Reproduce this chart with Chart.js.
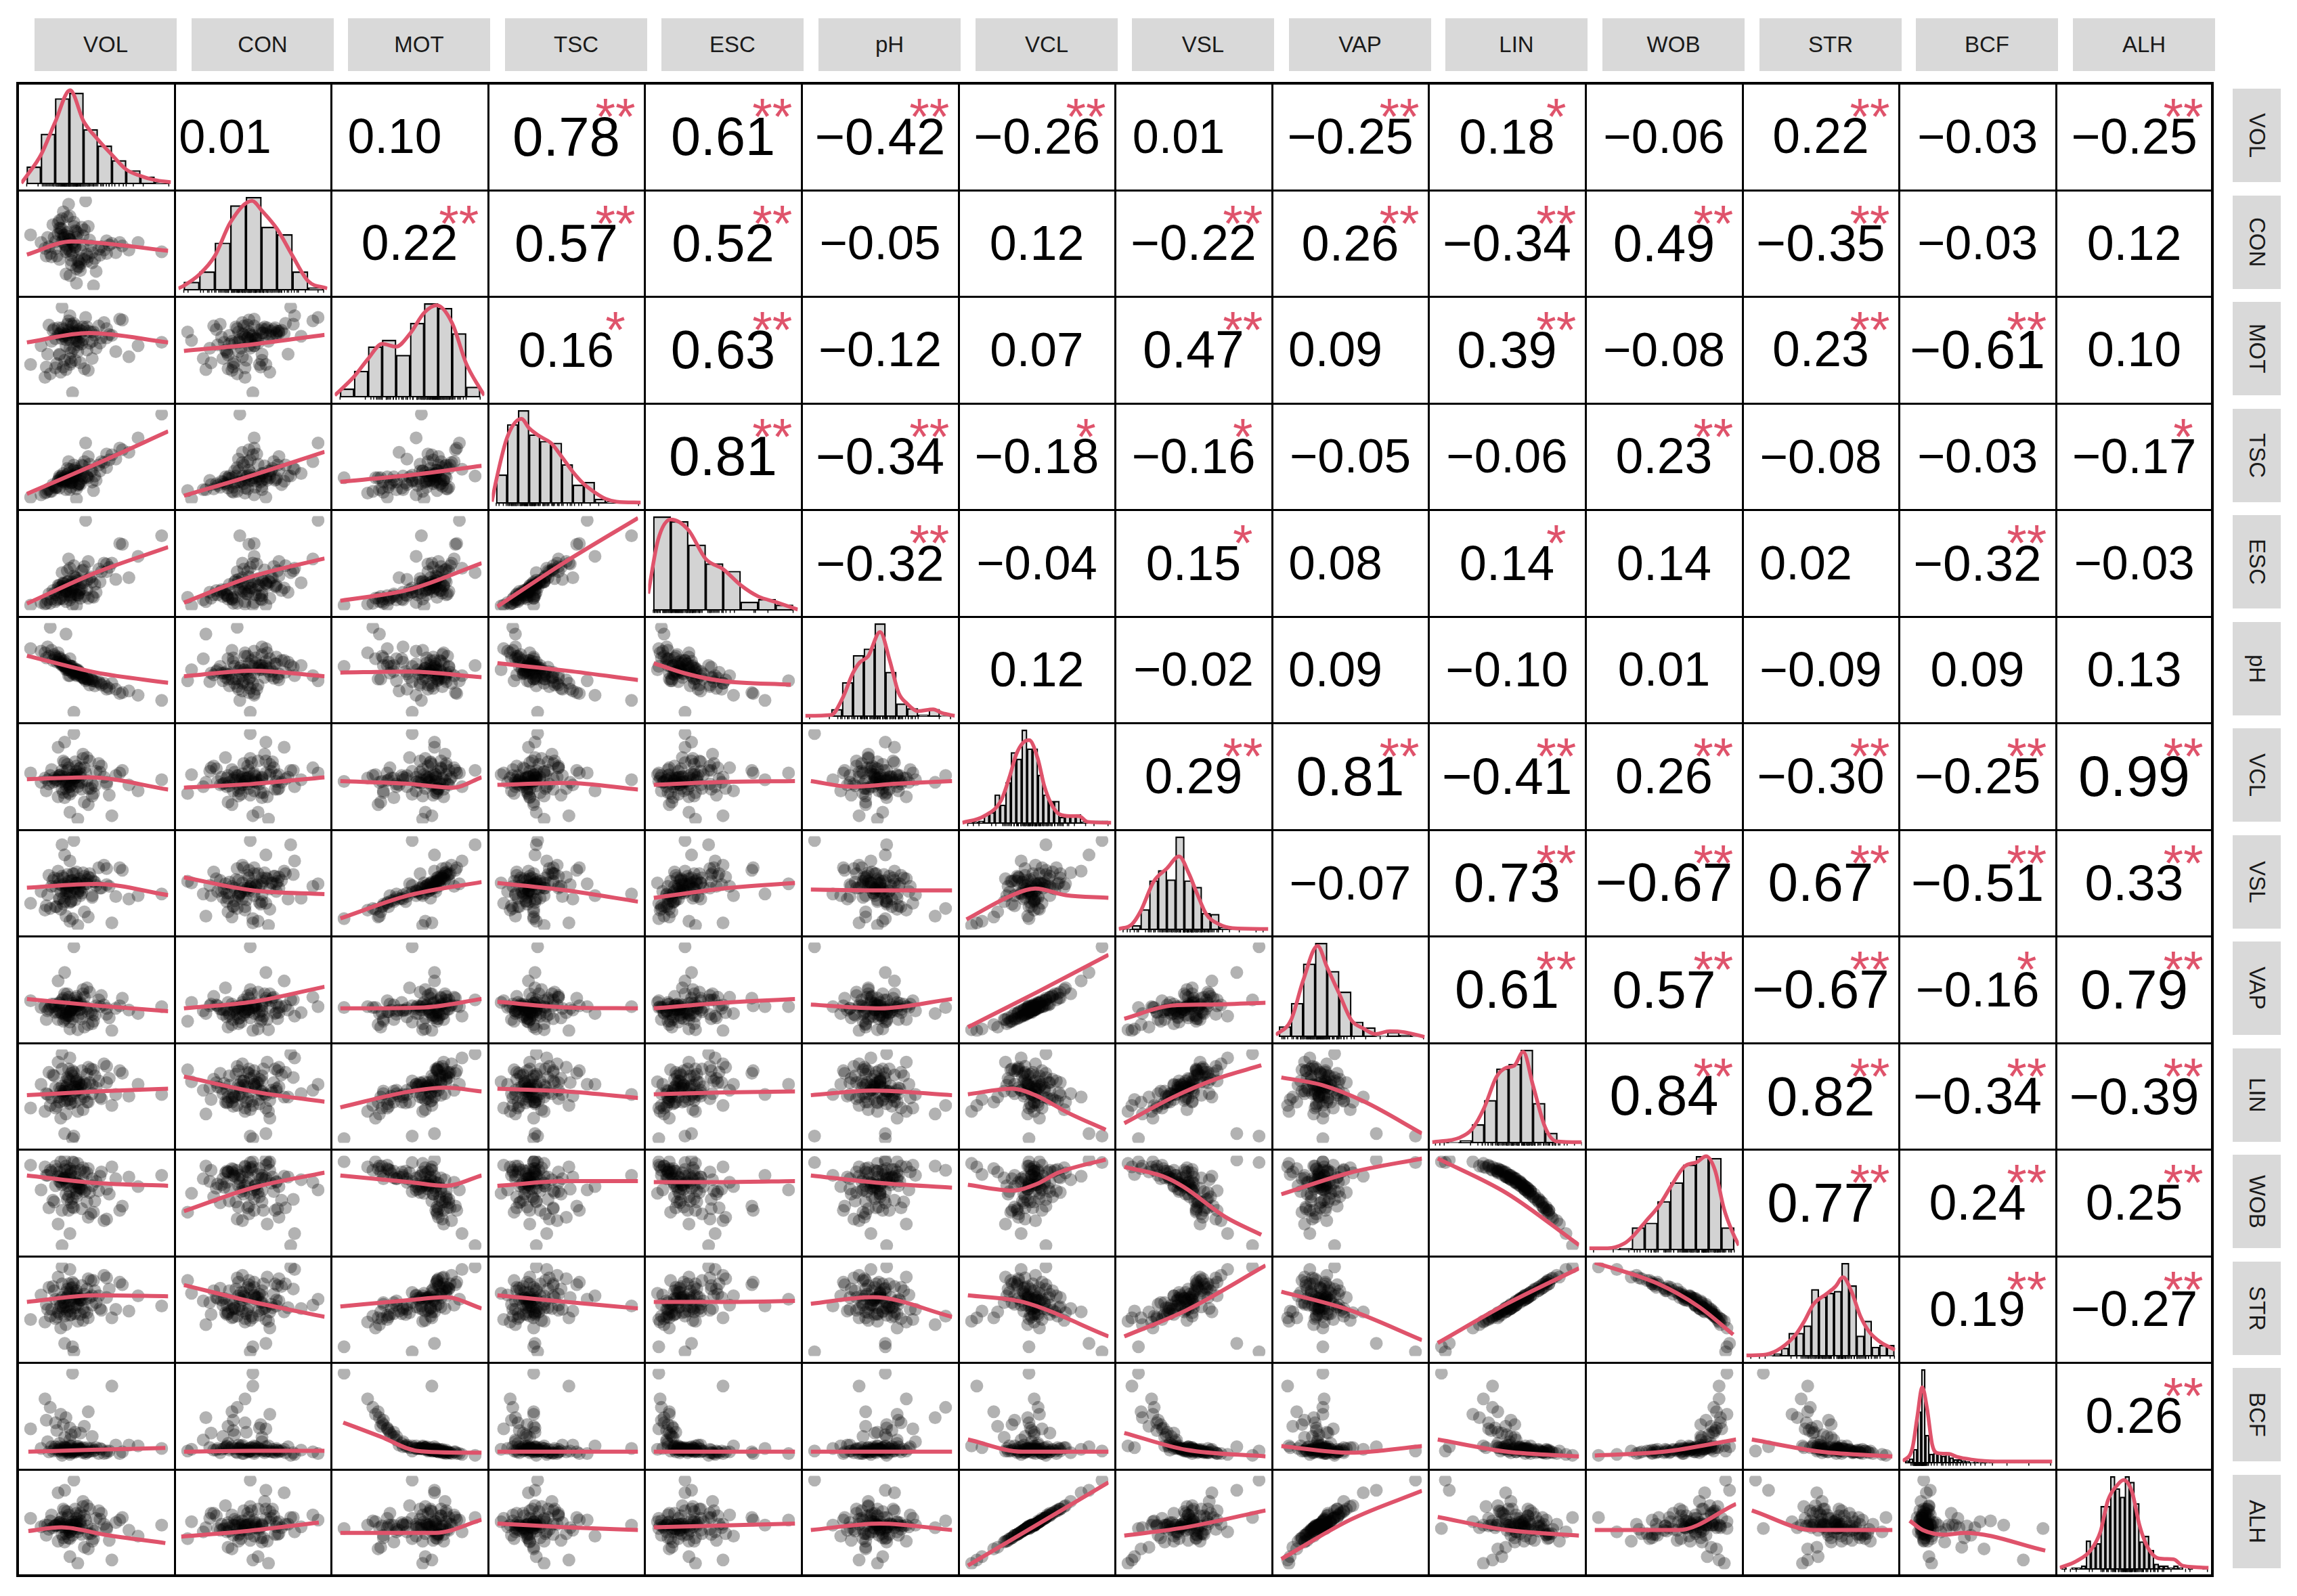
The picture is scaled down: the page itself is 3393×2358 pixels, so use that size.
<!DOCTYPE html>
<html>
<head>
<meta charset="utf-8">
<script src="https://cdn.jsdelivr.net/npm/chart.js@4.4.1/dist/chart.umd.min.js"></script>
<style>
html, body { margin: 0; padding: 0; background: #fff; }
#wrap { position: relative; width: 3393px; height: 2358px; overflow: hidden; font-family: "Liberation Sans", Arial, sans-serif; }
.strip { position: absolute; background: #d9d9d9; color: #1a1a1a; font-size: 33px; display: flex; align-items: center; justify-content: center; }
.strip.v { writing-mode: vertical-rl; }
.cell { position: absolute; overflow: hidden; background: #fff; }
.cell canvas { position: absolute; left: 0; top: 0; }
.num { position: absolute; left: 0; top: 0; width: 100%; height: 100%; display: flex; align-items: center; justify-content: center; line-height: 1; color: #000; white-space: nowrap; }
.star { position: absolute; color: #df536b; line-height: 1; font-size: 76px; white-space: nowrap; transform: translateX(-50%); }
.gl { position: absolute; background: #000; }
</style>
</head>
<body>
<div id="wrap"></div>
<script>
// variables, in panel order
const names = ['VOL', 'CON', 'MOT', 'TSC', 'ESC', 'pH', 'VCL', 'VSL', 'VAP', 'LIN', 'WOB', 'STR', 'BCF', 'ALH'];

// observations (0 = smallest value of the variable, 100 = largest)
const VOL = [28,35,12,45,31,22,60,38,18,27, 33,41,8,52,25,30,70,36,15,29, 43,24,34,0,48,32,21,39,56,26, 37,19,30,65,28,44,14,35,23,82, 31,40,27,50,17,33,38,25,100,29, 46,22,34,58,30,11,42,36,26,75, 32,20,39,54,27,35,47,24,31,62, 24,36,41,19,29,53,33,26,47,21, 38,30,16,44,27,35,58,23,32,40, 13,28,49,34,25,37,68,30,22,43];
const CON = [44,64,35,54,25,77,48,18,57,40, 70,31,51,43,87,12,47,62,38,55, 29,67,46,60,0,50,74,32,42,57, 22,52,82,39,63,34,46,3,68,51, 36,59,43,17,72,48,26,56,40,96, 47,31,65,38,54,44,100,23,60,42, 51,35,69,46,14,57,39,79,30,50, 52,30,66,44,58,36,75,49,27,61, 42,55,34,70,47,20,53,63,39,48, 57,81,32,45,60,28,51,41,68,37];
const MOT = [65,72,30,58,80,45,68,35,75,62, 70,28,55,78,66,40,85,60,22,73, 50,76,64,33,71,0,69,57,82,38, 74,63,90,48,67,26,79,61,70,55, 36,77,68,52,73,52,65,30,59,84, 71,44,66,75,62,18,88,56,69,42, 78,34,72,64,27,70,60,100,47,67, 63,48,74,29,70,58,81,66,40,76, 69,33,60,72,55,78,64,24,71,62, 45,80,67,38,74,59,86,52,68,77];
const TSC = [22,33,8,41,14,27,46,17,15,20, 34,25,5,40,30,11,58,33,9,24, 26,22,27,2,10,25,21,24,43,22, 18,14,35,47,29,25,12,0,23,72, 19,39,18,22,17,28,21,20,100,44, 34,13,36,37,27,7,66,16,26,55, 25,14,40,44,11,30,33,27,19,52, 21,17,44,13,30,33,40,22,20,22, 27,26,9,50,21,12,53,25,20,31, 11,36,27,26,24,18,60,21,25,27];
const ESC = [20,33,3,32,17,16,45,9,15,18, 35,11,4,43,27,7,72,29,3,24, 19,23,25,1,10,1,21,20,50,12, 18,13,44,31,28,9,14,0,22,58, 10,42,17,16,18,21,19,8,82,55, 34,8,33,40,24,2,100,13,26,33, 28,7,41,40,5,30,28,39,13,50, 19,12,46,5,29,28,47,21,11,24, 26,12,8,52,17,13,49,9,20,27, 7,41,25,14,26,15,73,16,24,30];
const PH  = [50,43,64,32,54,59,28,46,68,52, 45,39,72,36,55,63,23,48,100,50, 41,57,46,75,37,54,61,45,34,55, 48,64,43,27,52,39,66,50,57,20, 54,41,50,36,61,0,46,55,14,43, 39,63,48,30,52,70,37,50,54,25, 46,59,41,32,92,50,39,55,48,34, 58,45,40,66,52,34,47,61,37,70, 43,55,73,38,57,44,27,63,49,41, 77,53,31,48,60,46,22,54,65,39];
const VCL = [44,56,33,68,40,49,28,60,48,36, 52,20,43,65,46,38,57,0,51,41, 72,35,48,54,30,44,84,43,49,25, 59,46,38,51,64,17,41,52,44,33, 48,76,40,56,43,100,49,31,46,60, 36,51,67,41,8,48,54,44,90,40, 52,46,35,62,43,49,27,57,48,4, 50,38,60,44,31,55,47,66,41,26, 53,45,58,36,49,62,43,52,33,71, 46,57,39,48,68,42,54,29,51,45];
const VSL = [41,50,23,61,53,31,46,35,56,38, 44,16,40,68,32,37,65,0,20,47, 49,58,43,26,52,8,64,38,71,28, 55,46,76,34,43,10,59,50,40,35, 29,62,44,47,53,100,41,25,37,46, 56,32,50,67,5,18,49,40,83,31, 61,22,52,44,11,49,35,95,28,3, 47,38,58,22,52,44,61,49,33,55, 50,27,46,57,41,63,48,19,53,45, 36,60,51,30,56,43,68,39,49,54];
const VAP = [24,37,15,47,27,26,17,33,33,17, 29,6,29,38,23,25,40,3,29,20, 52,22,26,37,13,29,60,22,32,15, 32,31,19,28,45,9,27,35,23,22, 26,45,20,31,30,100,27,13,30,41, 24,35,40,21,4,30,30,31,70,26, 34,24,16,43,22,31,10,38,26,2, 32,18,41,23,19,30,31,45,21,15, 35,24,33,23,27,42,28,29,16,50, 25,38,20,32,40,26,31,12,34,28];
const LIN = [63,57,53,66,77,49,71,46,74,60, 61,49,64,68,53,57,77,32,39,70, 43,82,61,36,81,0,49,63,88,56, 66,60,95,52,45,43,78,67,56,64, 50,53,68,60,75,3,59,56,52,57, 82,43,54,85,46,32,64,61,6,50, 74,38,80,47,29,68,63,100,42,39, 62,57,66,36,82,49,78,44,53,90, 63,41,48,84,55,70,66,24,80,34, 52,72,74,43,51,65,80,68,59,76];
const WOB = [70,73,82,62,50,80,60,88,51,74, 69,86,65,64,77,78,46,96,88,57, 85,41,73,94,39,98,81,66,29,79, 67,70,14,78,88,90,44,61,74,69, 84,77,60,75,53,97,71,78,82,74, 37,86,80,31,83,92,65,72,100,80, 55,89,43,86,93,64,70,0,87,92, 71,74,63,93,41,81,44,89,78,25, 67,90,86,33,79,57,66,98,45,91, 82,54,52,87,79,68,41,63,75,51];
const STR = [65,56,56,64,75,52,74,44,72,63, 60,47,67,66,51,60,79,36,42,68, 46,80,63,38,84,6,47,61,90,58, 64,62,97,50,47,40,76,69,54,66, 52,51,70,58,77,0,61,58,54,55, 84,45,52,87,48,35,62,63,10,48, 76,41,78,49,32,66,66,100,44,40, 64,55,68,39,80,51,80,42,55,88, 61,43,50,86,53,72,64,28,82,37, 50,74,72,45,53,63,82,70,61,74];
const BCF = [10,8,45,12,7,14,9,30,11,13, 9,38,12,6,10,22,8,15,60,11, 13,7,10,35,9,100,11,12,6,25, 10,14,5,16,9,55,8,11,12,15, 28,7,10,13,9,9,11,40,12,8, 9,18,11,7,13,70,6,12,14,16, 8,33,10,11,48,9,12,4,15,85, 11,14,8,42,10,12,7,13,26,9, 11,36,14,8,12,10,9,52,11,13, 20,7,10,31,9,12,6,15,10,8];
const ALH = [45,55,35,66,41,48,29,61,46,37, 51,21,45,64,45,39,56,2,52,42, 70,36,47,55,31,43,85,44,48,27, 58,47,39,50,63,19,42,51,45,34, 47,75,41,55,44,100,48,32,47,59, 37,50,66,42,10,47,53,43,88,41, 51,47,36,61,44,48,28,56,47,6, 49,39,58,46,32,54,48,64,42,28, 52,44,59,37,48,61,44,51,35,69, 47,56,40,47,66,43,53,31,50,46];

// histogram bar heights (relative) and density curves [bin position, height]
const volBins = [0.19,0.55,0.94,1.0,0.60,0.42,0.26,0.15,0.08,0.02];
const volDens = [[-0.38,0.01],[0,0.09],[1,0.32],[2,0.68],[3.05,1.03],[4,0.69],[5,0.49],[6,0.32],[7,0.16],[8,0.09],[9,0.045],[10.15,0.02]];
const conBins = [0.09,0.20,0.51,0.91,1.0,0.68,0.60,0.20,0.03];
const conDens = [[-0.35,0.02],[0,0.05],[1,0.17],[2,0.37],[3,0.73],[4.4,0.96],[5,0.86],[6,0.66],[7,0.37],[8,0.10],[9.24,0.02]];
const motBins = [0.09,0.28,0.54,0.61,0.45,0.79,1.0,0.95,0.68,0.11];
const motDens = [[-0.38,0.02],[1,0.22],[2,0.41],[3,0.57],[4,0.54],[5,0.68],[6,0.90],[6.9,0.98],[8,0.79],[9,0.36],[10,0.09],[10.3,0.02]];
const tscBins = [0.31,0.85,1.0,0.74,0.67,0.65,0.42,0.20,0.23,0.05,0.02,0.01,0.01];
const tscDens = [[-0.4,0.02],[0,0.25],[1,0.71],[2.3,0.91],[3,0.81],[4,0.72],[5,0.65],[6,0.50],[7,0.34],[8,0.21],[9,0.12],[10,0.05],[11,0.02],[13.2,0.01]];
const escBins = [1.0,0.95,0.70,0.50,0.42,0.09,0.12,0.06];
const escDens = [[-0.29,0.18],[0.27,0.75],[1,0.97],[2,0.86],[3,0.55],[4,0.44],[5,0.27],[6,0.15],[7,0.09],[8.27,0.01]];
const phBins = [0.01,0.01,0.08,0.37,0.66,0.73,1.0,0.48,0.14,0.09,0.02,0.08,0.01];
const phDens = [[-0.4,0.01],[2,0.02],[3,0.19],[4,0.47],[4.6,0.58],[5.4,0.65],[6.5,0.91],[7.4,0.60],[8.2,0.26],[9,0.14],[10,0.06],[11.4,0.08],[12.2,0.04],[13.4,0.01]];
const vclBins = [0.02,0.02,0.03,0.10,0.12,0.31,0.20,0.44,0.76,0.69,1.0,0.80,0.80,0.52,0.31,0.24,0.24,0.07,0.08,0.09,0.10,0.02,0.01,0.03,0.03,0.03];
const vclDens = [[-1,0.01],[3,0.08],[6.2,0.25],[7.8,0.51],[9,0.74],[10.2,0.86],[11.4,0.89],[13,0.69],[14.2,0.40],[15.4,0.22],[17,0.10],[19,0.08],[20.6,0.08],[22.2,0.02],[26.6,0.01]];
const vslBins = [0.01,0.05,0.22,0.53,0.64,0.54,1.0,0.53,0.46,0.18,0.17,0.03,0.02,0.02,0.02,0.01];
const vslDens = [[-0.5,0.01],[1,0.06],[2,0.2],[3.5,0.52],[5,0.66],[6.4,0.79],[7.5,0.61],[8.5,0.38],[9.5,0.17],[11,0.06],[12.5,0.02],[16.6,0.01]];
const vapBins = [0.11,0.36,0.78,1.0,0.70,0.48,0.16,0.10,0.01,0.05,0.02,0.01];
const vapDens = [[-0.27,0.02],[1,0.18],[2,0.60],[3.2,0.97],[4,0.74],[5,0.46],[6,0.18],[7,0.09],[8,0.03],[9.2,0.06],[10.4,0.05],[12.1,0.0]];
const linBins = [0.01,0.01,0.03,0.20,0.46,0.80,0.85,1.0,0.43,0.11,0.01,0.01];
const linDens = [[-0.27,0.01],[2,0.06],[3,0.15],[4,0.38],[5,0.71],[5.8,0.81],[6.45,0.83],[7.2,0.98],[8,0.62],[9,0.17],[9.9,0.02],[12,0.01]];
const wobBins = [0.03,0.01,0.02,0.24,0.29,0.52,0.72,0.91,1.0,0.98,0.24];
const wobDens = [[-0.34,0.02],[1.1,0.02],[2.4,0.07],[3.1,0.15],[4.1,0.31],[5.1,0.47],[6.1,0.69],[7.1,0.89],[8.1,0.94],[8.8,1.0],[9.5,0.85],[10.2,0.44],[10.9,0.18],[11.36,0.05]];
const strBins = [0.01,0.01,0.01,0.03,0.09,0.25,0.25,0.33,0.72,0.64,0.68,0.70,1.0,0.76,0.22,0.38,0.10,0.12,0.12];
const strDens = [[-0.6,0.01],[2,0.02],[4,0.09],[6,0.24],[7.1,0.38],[8.3,0.56],[10,0.67],[11.2,0.75],[12.2,0.85],[13.3,0.70],[14.5,0.43],[15.7,0.26],[17.2,0.15],[19.1,0.07]];
const bcfBins = [0.03,0.05,0.15,0.55,1.0,0.30,0.10,0.11,0.10,0.08,0.11,0.06,0.04,0.04,0.03,0.02,0.01,0.02,0.01,0.02,0.01,0.02,0.02,0.01,0.02,0.01,0.01,0.02,0.01,0.01,0.01,0.01,0.02,0.01,0.02,0.01];
const bcfDens = [[-0.6,0.02],[1.8,0.16],[3,0.49],[4.25,0.81],[5.45,0.58],[6.7,0.20],[7.9,0.11],[10.9,0.10],[12.7,0.07],[16.4,0.04],[22.4,0.02],[36.4,0.02]];
const alhBins = [0.02,0,0.02,0.02,0.04,0.31,0.24,0.28,0.68,0.68,1.0,0.87,0.78,1.0,0.94,0.71,0.30,0.36,0.21,0.06,0.04,0.04,0.02,0.04,0.02,0,0.02,0,0,0.02];
const alhDens = [[-0.4,0.02],[3,0.09],[6,0.21],[8,0.41],[9.5,0.74],[11.5,0.91],[12.75,0.96],[14.5,0.83],[16,0.48],[17.5,0.26],[20,0.12],[23,0.11],[25,0.04],[30.25,0.02]];

// correlations, upper triangle, one row per variable (columns to the right of the diagonal)
const corrVOL = [0.01,0.10,0.78,0.61,-0.42,-0.26,0.01,-0.25,0.18,-0.06,0.22,-0.03,-0.25];
const corrCON = [0.22,0.57,0.52,-0.05,0.12,-0.22,0.26,-0.34,0.49,-0.35,-0.03,0.12];
const corrMOT = [0.16,0.63,-0.12,0.07,0.47,0.09,0.39,-0.08,0.23,-0.61,0.10];
const corrTSC = [0.81,-0.34,-0.18,-0.16,-0.05,-0.06,0.23,-0.08,-0.03,-0.17];
const corrESC = [-0.32,-0.04,0.15,0.08,0.14,0.14,0.02,-0.32,-0.03];
const corrPH  = [0.12,-0.02,0.09,-0.10,0.01,-0.09,0.09,0.13];
const corrVCL = [0.29,0.81,-0.41,0.26,-0.30,-0.25,0.99];
const corrVSL = [-0.07,0.73,-0.67,0.67,-0.51,0.33];
const corrVAP = [0.61,0.57,-0.67,-0.16,0.79];
const corrLIN = [0.84,0.82,-0.34,-0.39];
const corrWOB = [0.77,0.24,0.25];
const corrSTR = [0.19,-0.27];
const corrBCF = [0.26];

const starVOL = ['','','**','**','**','**','','**','*','','**','','**'];
const starCON = ['**','**','**','','','**','**','**','**','**','',''];
const starMOT = ['*','**','','','**','','**','','**','**',''];
const starTSC = ['**','**','*','*','','','**','','','*'];
const starESC = ['**','','*','','*','','','**',''];
const starPH  = ['','','','','','','',''];
const starVCL = ['**','**','**','**','**','**','**'];
const starVSL = ['','**','**','**','**','**'];
const starVAP = ['**','**','**','*','**'];
const starLIN = ['**','**','**','**'];
const starWOB = ['**','**','**'];
const starSTR = ['**','**'];
const starBCF = ['**'];

// smoothed trend lines in the lower panels, [x, y] as share of the panel
const loessCON = [
  [[0.02,0.38],[0.33,0.52],[0.48,0.51],[1,0.42]]
];
const loessMOT = [
  [[0.02,0.58],[0.45,0.68],[1,0.58]],
  [[0.02,0.49],[0.5,0.56],[1,0.66]]
];
const loessTSC = [
  [[0.02,0.10],[0.5,0.42],[1,0.77]],
  [[0.02,0.08],[0.5,0.30],[1,0.55]],
  [[0.02,0.23],[0.5,0.30],[1,0.40]]
];
const loessESC = [
  [[0.02,0.07],[0.5,0.40],[1,0.67]],
  [[0.02,0.08],[0.5,0.36],[1,0.55]],
  [[0.02,0.10],[0.5,0.22],[1,0.50]],
  [[0.02,0.04],[0.5,0.52],[1,0.98]]
];
const loessPH = [
  [[0.02,0.65],[0.5,0.47],[1,0.36]],
  [[0.02,0.43],[0.5,0.49],[1,0.43]],
  [[0.02,0.47],[0.5,0.48],[1,0.42]],
  [[0.02,0.57],[0.5,0.49],[1,0.39]],
  [[0.02,0.57],[0.24,0.46],[0.49,0.38],[0.97,0.34]]
];
const loessVCL = [
  [[0.02,0.47],[0.45,0.49],[1,0.36]],
  [[0.02,0.38],[0.5,0.42],[1,0.49]],
  [[0.02,0.45],[0.5,0.42],[0.8,0.38],[1,0.49]],
  [[0.02,0.41],[0.5,0.43],[1,0.36]],
  [[0.02,0.41],[0.5,0.44],[1,0.45]],
  [[0.02,0.45],[0.3,0.39],[0.6,0.42],[1,0.45]]
];
const loessVSL = [
  [[0.02,0.45],[0.5,0.49],[1,0.37]],
  [[0.02,0.56],[0.5,0.42],[1,0.38]],
  [[0.02,0.12],[0.5,0.37],[1,0.51]],
  [[0.02,0.50],[0.5,0.42],[1,0.30]],
  [[0.02,0.34],[0.5,0.44],[1,0.50]],
  [[0.02,0.43],[0.5,0.42],[1,0.42]],
  [[0.01,0.11],[0.33,0.37],[0.49,0.44],[0.70,0.37],[1,0.34]]
];
const loessVAP = [
  [[0.02,0.40],[0.5,0.33],[1,0.27]],
  [[0.02,0.30],[0.5,0.37],[1,0.53]],
  [[0.02,0.30],[0.6,0.31],[1,0.40]],
  [[0.02,0.37],[0.5,0.31],[1,0.30]],
  [[0.02,0.30],[0.5,0.36],[1,0.40]],
  [[0.02,0.34],[0.5,0.30],[1,0.40]],
  [[0.02,0.10],[0.5,0.47],[1,0.87]],
  [[0.02,0.19],[0.35,0.33],[0.6,0.34],[1,0.36]]
];
const loessLIN = [
  [[0.02,0.51],[0.5,0.55],[1,0.58]],
  [[0.02,0.71],[0.5,0.55],[1,0.44]],
  [[0.02,0.38],[0.5,0.55],[0.75,0.59],[1,0.55]],
  [[0.02,0.58],[0.5,0.55],[1,0.48]],
  [[0.02,0.52],[0.5,0.54],[1,0.55]],
  [[0.02,0.51],[0.45,0.56],[1,0.51]],
  [[0.02,0.52],[0.33,0.58],[0.49,0.51],[0.72,0.32],[0.98,0.14]],
  [[0.02,0.21],[0.36,0.49],[0.65,0.68],[0.97,0.83]],
  [[0.02,0.70],[0.3,0.62],[0.6,0.44],[1,0.10]]
];
const loessWOB = [
  [[0.02,0.79],[0.5,0.71],[1,0.68]],
  [[0.02,0.41],[0.5,0.66],[1,0.82]],
  [[0.02,0.79],[0.5,0.72],[0.75,0.68],[1,0.79]],
  [[0.02,0.68],[0.5,0.73],[1,0.73]],
  [[0.02,0.72],[0.5,0.72],[1,0.73]],
  [[0.02,0.79],[0.5,0.71],[1,0.66]],
  [[0.02,0.69],[0.33,0.63],[0.5,0.70],[0.65,0.82],[0.98,0.96]],
  [[0.02,0.88],[0.29,0.78],[0.43,0.67],[0.72,0.35],[0.97,0.16]],
  [[0.02,0.59],[0.5,0.82],[1,0.97]],
  [[0.02,0.97],[0.5,0.60],[1,0.05]]
];
const loessSTR = [
  [[0.02,0.58],[0.5,0.65],[1,0.64]],
  [[0.02,0.76],[0.5,0.58],[1,0.42]],
  [[0.02,0.53],[0.5,0.60],[0.75,0.63],[1,0.51]],
  [[0.02,0.65],[0.5,0.58],[1,0.51]],
  [[0.02,0.58],[0.5,0.58],[1,0.59]],
  [[0.02,0.56],[0.45,0.63],[1,0.42]],
  [[0.02,0.65],[0.4,0.58],[1,0.21]],
  [[0.02,0.21],[0.45,0.49],[1,0.97]],
  [[0.02,0.69],[0.5,0.49],[1,0.17]],
  [[0.02,0.14],[0.5,0.56],[1,0.94]],
  [[0.02,1.0],[0.45,0.78],[0.74,0.53],[0.98,0.23]]
];
const loessBCF = [
  [[0.03,0.12],[0.47,0.14],[0.98,0.16]],
  [[0.02,0.12],[0.5,0.13],[1,0.13]],
  [[0.04,0.43],[0.30,0.28],[0.55,0.13],[0.9,0.11],[1,0.11]],
  [[0.02,0.12],[1,0.12]],
  [[0.02,0.12],[1,0.12]],
  [[0.02,0.12],[1,0.12]],
  [[0.02,0.25],[0.4,0.12],[1,0.12]],
  [[0.02,0.32],[0.45,0.14],[1,0.07]],
  [[0.02,0.18],[0.5,0.11],[1,0.18]],
  [[0.02,0.25],[0.5,0.12],[1,0.07]],
  [[0.02,0.08],[0.5,0.12],[1,0.25]],
  [[0.02,0.25],[0.5,0.12],[1,0.07]]
];
const loessALH = [
  [[0.03,0.41],[0.26,0.45],[0.56,0.37],[0.98,0.28]],
  [[0.0,0.35],[0.4,0.40],[0.96,0.50]],
  [[0.02,0.39],[0.68,0.39],[1,0.53]],
  [[0.02,0.49],[0.5,0.45],[1,0.42]],
  [[0.02,0.45],[1,0.49]],
  [[0.02,0.42],[0.5,0.49],[1,0.42]],
  [[0.02,0.04],[1,0.93]],
  [[0.02,0.36],[0.45,0.45],[1,0.63]],
  [[0.02,0.11],[0.5,0.53],[1,0.84]],
  [[0.02,0.56],[0.5,0.42],[1,0.36]],
  [[0.02,0.42],[0.6,0.42],[1,0.70]],
  [[0.02,0.63],[0.45,0.42],[1,0.42]],
  [[0.03,0.52],[0.12,0.42],[0.28,0.37],[0.41,0.39],[0.97,0.20]]
];

const obs = [VOL, CON, MOT, TSC, ESC, PH, VCL, VSL, VAP, LIN, WOB, STR, BCF, ALH];
const bins = [volBins, conBins, motBins, tscBins, escBins, phBins, vclBins, vslBins, vapBins, linBins, wobBins, strBins, bcfBins, alhBins];
const dens = [volDens, conDens, motDens, tscDens, escDens, phDens, vclDens, vslDens, vapDens, linDens, wobDens, strDens, bcfDens, alhDens];
const corr = [corrVOL, corrCON, corrMOT, corrTSC, corrESC, corrPH, corrVCL, corrVSL, corrVAP, corrLIN, corrWOB, corrSTR, corrBCF];
const stars = [starVOL, starCON, starMOT, starTSC, starESC, starPH, starVCL, starVSL, starVAP, starLIN, starWOB, starSTR, starBCF];
const loess = [null, loessCON, loessMOT, loessTSC, loessESC, loessPH, loessVCL, loessVSL, loessVAP, loessLIN, loessWOB, loessSTR, loessBCF, loessALH];

const RED = '#DF536B';
const L0 = 26, T0 = 123, CW = 231.6, RH = 157.5, N = names.length;
const colX = k => Math.round(L0 + CW * k);
const rowY = k => Math.round(T0 + RH * k);
const wrap = document.getElementById('wrap');

// a few labels sit left of the panel centre in the original
const labelShift = { '0,1': -41, '0,2': -22, '0,7': -22, '2,8': -22, '4,8': -22, '5,8': -22, '4,11': -22 };

Chart.defaults.animation = false;
const base = {
  responsive: false,
  animation: false,
  events: [],
  layout: { padding: 0 },
  plugins: { legend: { display: false }, tooltip: { enabled: false } }
};

function box(cls, l, t, w, h) {
  const d = document.createElement('div');
  d.className = cls;
  d.style.left = l + 'px';
  d.style.top = t + 'px';
  d.style.width = w + 'px';
  d.style.height = h + 'px';
  wrap.appendChild(d);
  return d;
}

function canvasIn(cell, w, h) {
  const c = document.createElement('canvas');
  c.width = w; c.height = h;
  c.style.width = w + 'px'; c.style.height = h + 'px';
  cell.appendChild(c);
  return c;
}

// ggplot-like 5% expansion of the data range
const frac = v => (v / 100 + 0.05) / 1.1;

function histPanel(cell, w, h, k) {
  const b = bins[k], d = dens[k];
  const top = Math.max(1, ...d.map(p => p[1])) * 1.035;
  // rug of the observations along the bottom
  const rug = obs[k].map(v => ({ x: v / 100 * b.length, y: -0.012 * top }));
  new Chart(canvasIn(cell, w, h), {
    type: 'bar',
    data: {
      datasets: [
        { type: 'line', order: 0, data: d.map(p => ({ x: p[0], y: p[1] })), borderColor: RED, borderWidth: 5.5,
          pointRadius: 0, fill: false, cubicInterpolationMode: 'monotone' },
        { type: 'scatter', order: 1, data: rug, pointStyle: 'line', rotation: 90, pointRadius: 3,
          borderColor: '#000', pointBorderColor: '#000', pointBorderWidth: 1.5 },
        { type: 'bar', order: 2, data: b.map((v, i) => ({ x: i + 0.5, y: v })), backgroundColor: '#d3d3d3',
          borderColor: '#000', borderWidth: 2.2, borderSkipped: false, barPercentage: 1, categoryPercentage: 1 }
      ]
    },
    options: Object.assign({}, base, {
      scales: {
        x: { type: 'linear', display: false, offset: false, min: d[0][0], max: d[d.length - 1][0] },
        y: { display: false, min: -0.025 * top, max: top }
      }
    })
  });
}

function scatterPanel(cell, w, h, i, j) {
  const xs = obs[j], ys = obs[i];
  const pts = xs.map((v, n) => ({ x: frac(v), y: frac(ys[n]) }));
  const line = loess[i][j].map(p => ({ x: p[0], y: p[1] }));
  new Chart(canvasIn(cell, w, h), {
    type: 'scatter',
    data: {
      datasets: [
        { type: 'line', order: 0, data: line, borderColor: RED, borderWidth: 6, pointRadius: 0, fill: false,
          cubicInterpolationMode: 'monotone' },
        { order: 1, data: pts, pointRadius: 9.5, pointBackgroundColor: 'rgba(0,0,0,0.3)', pointBorderWidth: 0 }
      ]
    },
    options: Object.assign({}, base, {
      scales: {
        x: { type: 'linear', display: false, min: 0, max: 1 },
        y: { type: 'linear', display: false, min: 0, max: 1 }
      }
    })
  });
}

function corrPanel(cell, w, h, i, j) {
  const r = corr[i][j - i - 1];
  const s = stars[i][j - i - 1];
  const num = document.createElement('div');
  num.className = 'num';
  num.style.fontSize = (70 + 15 * Math.abs(r)) + 'px';
  num.style.left = (labelShift[i + ',' + j] || 0) + 'px';
  num.textContent = r.toFixed(2).replace('-', '\u2212');
  cell.appendChild(num);
  if (s) {
    const st = document.createElement('div');
    st.className = 'star';
    st.textContent = s;
    st.style.left = (0.814 * w) + 'px';
    st.style.top = (32 - 0.2735 * 76) + 'px';
    cell.appendChild(st);
  }
}

// strips
for (let k = 0; k < N; k++) {
  const s = box('strip', colX(k) + 25, 27, 210, 78);
  s.textContent = names[k];
  const v = box('strip v', 3298, rowY(k) + 8, 71, 138);
  v.textContent = names[k];
}

// panels
for (let i = 0; i < N; i++) {
  for (let j = 0; j < N; j++) {
    const l = colX(j), t = rowY(i);
    const w = colX(j + 1) - l, h = rowY(i + 1) - t;
    const cell = box('cell', l, t, w, h);
    if (i === j) histPanel(cell, w, h, i);
    else if (i > j) scatterPanel(cell, w, h, i, j);
    else corrPanel(cell, w, h, i, j);
  }
}

// panel borders
for (let k = 0; k <= N; k++) {
  const outer = (k === 0 || k === N);
  const lw = outer ? 4.5 : 3;
  box('gl', colX(k) - lw / 2, rowY(0) - 2.25, lw, rowY(N) - rowY(0) + 4.5);
  box('gl', colX(0) - 2.25, rowY(k) - lw / 2, colX(N) - colX(0) + 4.5, lw);
}
</script>
</body>
</html>
